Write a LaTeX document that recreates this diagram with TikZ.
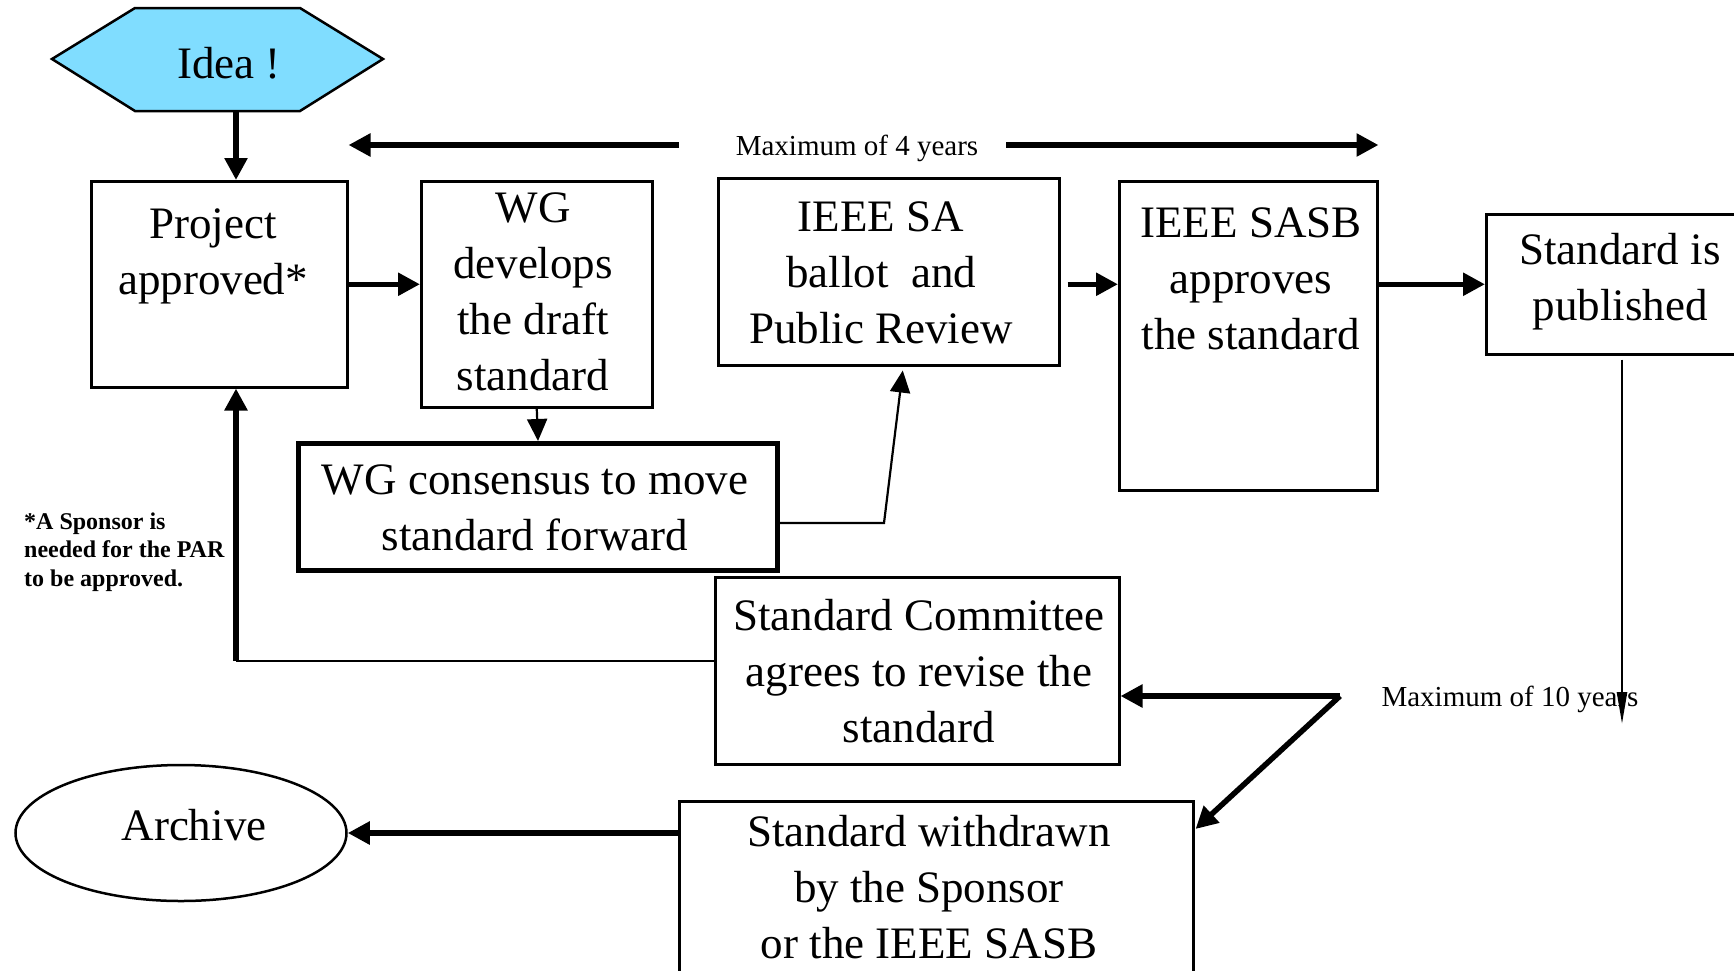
\documentclass[tikz,border=0pt]{standalone}
\usepackage{fontspec}
\setmainfont{Liberation Serif}
\usetikzlibrary{arrows.meta,calc,shapes.geometric}
\definecolor{ideafill}{RGB}{128,221,255}
\newcommand\bigtxt{\fontsize{45}{56}\selectfont}
\newcommand\smalltxt{\fontsize{29}{32}\selectfont}
\newcommand\notetxt{\fontsize{24}{28.5}\selectfont\bfseries}
\begin{document}
\begin{tikzpicture}[x=1pt,y=-1pt,
  box/.style={draw, line width=2.5pt, inner sep=0pt, anchor=north west},
  txt/.style={align=center, font=\bigtxt, inner sep=0pt},
  thk/.style={line width=5.5pt, -{Triangle[length=22pt,width=22pt]}},
  thkline/.style={line width=5.5pt},
  thn/.style={line width=2.2pt, -{Triangle[length=22pt,width=20pt]}},
  thnline/.style={line width=2.2pt},
  longtip/.style={line width=2.5pt, -{Triangle[length=32pt,width=10pt]}}]
\useasboundingbox (0,0) rectangle (1734,970);
% Idea hexagon
\draw[line width=2.5pt, fill=ideafill] (52,59) -- (135,8) -- (300,8) -- (383,59) -- (300,111) -- (135,111) -- cycle;
\node[txt] (idea) at (229,63) {Idea !};
\coordinate (ideaB) at (236,111);
% boxes
\node[box, minimum width=256pt, minimum height=206pt] (proj) at (90,180) {};
\node[box, minimum width=231pt, minimum height=226pt] (wg) at (420,180) {};
\node[box, minimum width=341pt, minimum height=187pt] (sa) at (717,177) {};
\node[box, minimum width=258pt, minimum height=309pt] (sasb) at (1118,180) {};
\node[box, minimum width=290pt, minimum height=140pt] (pub) at (1485,213) {};
\node[box, line width=5pt, minimum width=479pt, minimum height=127pt] (cons) at (296,441) {};
\node[box, minimum width=404pt, minimum height=187pt] (comm) at (714,576) {};
\node[box, minimum width=514pt, minimum height=210pt] (wd) at (678,800) {};
\node[draw, line width=2.5pt, ellipse, inner sep=0pt, minimum width=331pt, minimum height=136pt] (arch) at (181,833) {};
% texts
\node[txt] (projT) at (213,256) {Project\\approved*};
\node[txt] (wgT) at (533,292) {WG\\develops\\the draft\\standard};
\node[txt] (saT) at (881,273) {IEEE SA\\ballot\ \ and\\Public Review};
\node[txt] (sasbT) at (1251,279) {IEEE SASB\\approves\\the standard};
\node[txt] (pubT) at (1620,282) {Standard is\\published};
\node[txt] (consT) at (535,508) {WG consensus to move\\standard forward};
\node[txt] (commT) at (919,671) {Standard Committee\\agrees to revise the\\standard};
\node[txt] (wdT) at (929,887) {Standard withdrawn\\by the Sponsor\\or the IEEE SASB};
\node[txt] (archT) at (194,825) {Archive};
\node[font=\notetxt, align=left, anchor=west, inner sep=0pt] (note) at (24,552) {*A Sponsor is\\needed for the PAR\\to be approved.};
\node[font=\smalltxt, inner sep=0pt] (m4) at (857,148) {Maximum of 4 years};
\node[font=\smalltxt, inner sep=0pt] (m10) at (1510,699) {Maximum of 10 years};
% connectors
\coordinate (m4L) at (679,145);
\coordinate (m4R) at (1006,145);
\coordinate (bend) at (884,523);
\coordinate (c1) at (236,661);
\coordinate (j) at (1340,696);
\coordinate (p10) at (1622,724);
\draw[thk] (ideaB) -- (ideaB |- proj.north);
\draw[thk] (proj.east) -- (proj.east -| wg.west);
\draw[thk] (m4L) -- (m4L -| proj.east);
\draw[thk] (m4R) -- (m4R -| sasb.east);
\draw[thn] (wg.south) -- (cons.north);
\draw[thk] ($(sa.east |- proj.east)+(7,0)$) -- (proj.east -| sasb.west);
\draw[thk] (sasb.east |- proj.east) -- (proj.east -| pub.west);
\draw[longtip] ($(p10 |- pub.south)+(0,4)$) -- (p10);
\draw[thn] (cons.east |- bend) -- (bend) -- ($(sa.south)+(14,4)$);
\draw[thnline] (comm.west |- c1) -- (c1);
\draw[thk] (c1) -- (c1 |- proj.south);
\draw[thk] (j) -- (j -| comm.east);
\draw[thk] (j) -- ($(wd.north east)+(1,29)$);
\draw[thk] (arch.east -| wd.west) -- (arch.east);
\end{tikzpicture}
\end{document}
